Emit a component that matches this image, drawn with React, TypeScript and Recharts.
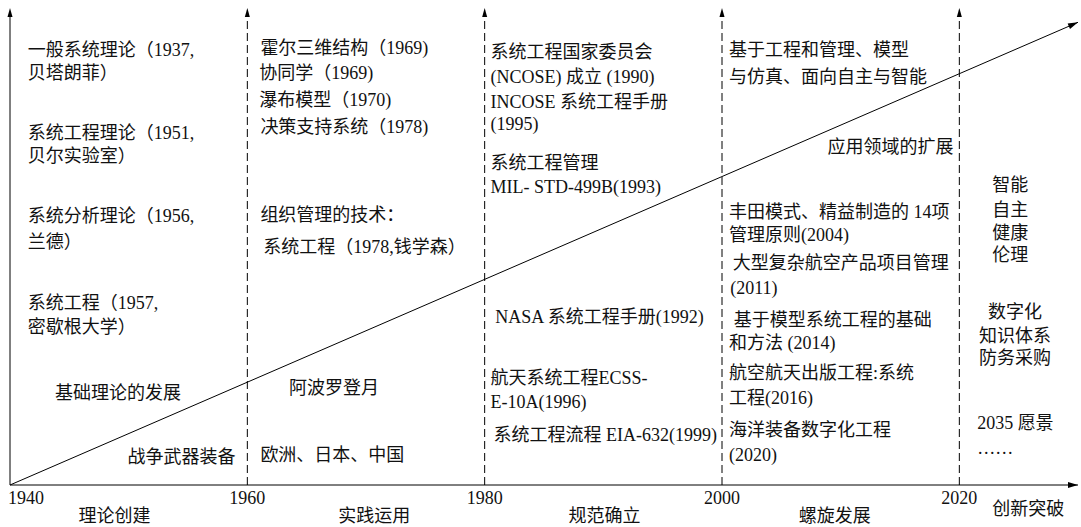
import { ComposedChart, Line, Scatter, XAxis, YAxis, ReferenceLine, ReferenceDot } from 'recharts'

const FONT = "'Liberation Serif', 'Noto Sans CJK SC', serif"

const yearTicks = [1940, 1960, 1980, 2000, 2020]
const eraNames = ['理论创建', '实践运用', '规范确立', '螺旋发展', '创新突破']
const eraYears = [1948.8, 1970.7, 1990.1, 2009.5, 2025.8]

// rising line of development, 1940 -> beyond 2020
const trend = [
  { year: 1940, level: 0 },
  { year: 2030, level: 97 },
]

type Note = { year: number; level: number; text: string; align?: 'start' | 'middle' | 'end' }

const notes1940: Note[] = [
  { year: 1941.5, level: 91.2, text: '一般系统理论（1937,' },
  { year: 1941.5, level: 86.4, text: '贝塔朗菲）' },
  { year: 1941.5, level: 73.8, text: '系统工程理论（1951,' },
  { year: 1941.5, level: 69.0, text: '贝尔实验室）' },
  { year: 1941.5, level: 56.4, text: '系统分析理论（1956,' },
  { year: 1941.5, level: 51.0, text: '兰德）' },
  { year: 1941.5, level: 38.2, text: '系统工程（1957,' },
  { year: 1941.5, level: 33.1, text: '密歇根大学）' },
  { year: 1949.1, level: 19.3, text: '基础理论的发展', align: 'middle' },
  { year: 1959.0, level: 5.9, text: '战争武器装备', align: 'end' },
]

const notes1960: Note[] = [
  { year: 1961.1, level: 91.6, text: '霍尔三维结构（1969)' },
  { year: 1961.0, level: 86.4, text: '协同学（1969)' },
  { year: 1961.0, level: 80.7, text: '瀑布模型（1970)' },
  { year: 1961.1, level: 75.1, text: '决策支持系统（1978)' },
  { year: 1961.1, level: 56.6, text: '组织管理的技术：' },
  { year: 1961.35, level: 49.9, text: '系统工程（1978,钱学森）' },
  { year: 1967.3, level: 20.3, text: '阿波罗登月', align: 'middle' },
  { year: 1961.1, level: 6.3, text: '欧洲、日本、中国' },
]

const notes1980: Note[] = [
  { year: 1980.5, level: 90.8, text: '系统工程国家委员会' },
  { year: 1980.5, level: 85.5, text: '(NCOSE) 成立 (1990)' },
  { year: 1980.5, level: 80.3, text: 'INCOSE 系统工程手册' },
  { year: 1980.5, level: 75.7, text: '(1995)' },
  { year: 1980.5, level: 67.5, text: '系统工程管理' },
  { year: 1980.5, level: 62.5, text: 'MIL- STD-499B(1993)' },
  { year: 1980.9, level: 35.2, text: 'NASA 系统工程手册(1992)' },
  { year: 1980.5, level: 22.4, text: '航天系统工程ECSS-' },
  { year: 1980.5, level: 17.4, text: 'E-10A(1996)' },
  { year: 1980.75, level: 10.5, text: '系统工程流程 EIA-632(1999)' },
]

const notes2000: Note[] = [
  { year: 2000.6, level: 91.2, text: '基于工程和管理、模型' },
  { year: 2000.6, level: 85.5, text: '与仿真、面向自主与智能' },
  { year: 2019.5, level: 70.9, text: '应用领域的扩展', align: 'end' },
  { year: 2000.6, level: 57.2, text: '丰田模式、精益制造的 14项' },
  { year: 2000.6, level: 52.4, text: '管理原则(2004)' },
  { year: 2000.9, level: 46.5, text: '大型复杂航空产品项目管理' },
  { year: 2000.7, level: 41.3, text: '(2011)' },
  { year: 2001.0, level: 34.6, text: '基于模型系统工程的基础' },
  { year: 2000.6, level: 29.8, text: '和方法 (2014)' },
  { year: 2000.6, level: 23.5, text: '航空航天出版工程:系统' },
  { year: 2000.6, level: 18.2, text: '工程(2016)' },
  { year: 2000.6, level: 11.5, text: '海洋装备数字化工程' },
  { year: 2000.6, level: 6.3, text: '(2020)' },
]

const notes2020: Note[] = [
  { year: 2024.3, level: 62.9, text: '智能', align: 'middle' },
  { year: 2024.3, level: 57.7, text: '自主', align: 'middle' },
  { year: 2024.3, level: 52.8, text: '健康', align: 'middle' },
  { year: 2024.3, level: 48.2, text: '伦理', align: 'middle' },
  { year: 2024.7, level: 36.3, text: '数字化', align: 'middle' },
  { year: 2024.7, level: 31.4, text: '知识体系', align: 'middle' },
  { year: 2024.7, level: 26.6, text: '防务采购', align: 'middle' },
  { year: 2021.5, level: 13.0, text: '2035 愿景' },
  { year: 2021.5, level: 7.8, text: '……' },
]

const notes = [...notes1940, ...notes1960, ...notes1980, ...notes2000, ...notes2020]

const NoteShape = (p: any) => {
  const { cx, cy, payload } = p
  return (
    <text x={cx} y={cy} dy="0.35em" textAnchor={payload.align ?? 'start'} fontSize={18} fontFamily={FONT} fill="#111">
      {payload.text}
    </text>
  )
}

const arrowLine = (dashed: boolean) => (p: any) => {
  const { x1, y1, y2 } = p
  const top = Math.min(y1, y2)
  const bottom = Math.max(y1, y2)
  return (
    <g>
      <line x1={x1} x2={x1} y1={bottom} y2={top + 6} stroke="#000" strokeWidth={1} strokeDasharray={dashed ? '8 4' : undefined} />
      <polygon points={`${x1},${top} ${x1 - 2.5},${top + 9} ${x1 + 2.5},${top + 9}`} fill="#000" />
    </g>
  )
}

const axisArrow = (p: any) => {
  const { cx, cy } = p
  return <polygon points={`${cx},${cy} ${cx - 10},${cy - 3} ${cx - 10},${cy + 3}`} fill="#000" />
}

// era names sit in a row under the year labels
const eraLabel = (name: string, last: boolean) => (p: any) => {
  const { cx, cy } = p
  return (
    <text x={cx} y={cy} dy={last ? 30 : 37} textAnchor="middle" fontSize={18} fontFamily={FONT} fill="#111">
      {name}
    </text>
  )
}

const trendDot = (p: any) => {
  const { cx, cy, index, points } = p
  if (index !== trend.length - 1) return <g key={`d${index}`} />
  let ang = -0.412
  if (points && points[index - 1]) {
    const prev = points[index - 1]
    ang = Math.atan2(cy - prev.y, cx - prev.x)
  }
  const bx = cx - 10 * Math.cos(ang)
  const by = cy - 10 * Math.sin(ang)
  const nx = -Math.sin(ang) * 3
  const ny = Math.cos(ang) * 3
  return <polygon key="arrow" points={`${cx},${cy} ${bx + nx},${by + ny} ${bx - nx},${by - ny}`} fill="#000" />
}

const YearTick = (p: any) => {
  const { x, y, payload, index } = p
  const first = index === 0
  return (
    <text x={first ? x - 2 : x} y={y} dy={19} textAnchor={first ? 'start' : 'middle'} fontSize={18} fontFamily={FONT} fill="#111">
      {payload.value}
    </text>
  )
}

export default function App() {
  return (
    <div style={{ position: 'absolute', left: 0, top: 0, width: 1081, height: 527, background: '#fff' }}>
      <ComposedChart width={1081} height={527} margin={{ top: 8, right: 3, left: 10, bottom: 20 }}>
        <XAxis
          dataKey="year"
          type="number"
          domain={[1940, 2030]}
          ticks={yearTicks}
          interval={0}
          tickSize={0}
          tickMargin={0}
          height={22}
          axisLine={{ stroke: '#000', strokeWidth: 1 }}
          tickLine={false}
          tick={(p: any) => <YearTick {...p} />}
        />
        <YAxis dataKey="level" type="number" domain={[0, 100]} hide />
        {yearTicks.map((yr, i) => (
          <ReferenceLine key={yr} x={yr} shape={arrowLine(i !== 0)} />
        ))}
        <ReferenceDot x={2030} y={0} r={0} shape={axisArrow} />
        {eraYears.map((yr, i) => (
          <ReferenceDot key={eraNames[i]} x={yr} y={0} r={0} shape={eraLabel(eraNames[i], i === eraNames.length - 1)} />
        ))}
        <Line
          data={trend}
          dataKey="level"
          type="linear"
          stroke="#000"
          strokeWidth={1}
          dot={trendDot}
          activeDot={false}
          isAnimationActive={false}
        />
        <Scatter data={notes} shape={NoteShape} isAnimationActive={false} />
      </ComposedChart>
    </div>
  )
}
